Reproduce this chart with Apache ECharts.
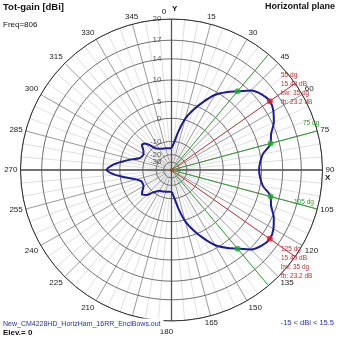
<!DOCTYPE html>
<html><head><meta charset="utf-8">
<script src="https://cdn.jsdelivr.net/npm/echarts@6/dist/echarts.min.js"></script>
<style>html,body{margin:0;padding:0;background:#fff}#c{width:339px;height:339px}</style>
</head><body><div id="c"></div>
<script>
// ---- data ----
const angles = [0,5,10,15,20,25,30,35,40,45,50,55,60,65,70,75,80,85,
  90,95,100,105,110,115,120,125,130,135,140,145,150,155,160,165,170,175,
  180,185,190,195,200,205,210,215,220,225,230,235,240,245,250,255,260,265,
  270,275,280,285,290,295,300,305,310,315,320,325,330,335,340,345,350,355];
const gainDb = [-14.4,-11.0,-5.0,0.5,3.8,6.7,9.3,11.0,12.49,14.2,15.1,15.49,15.1,14.3,13.1,12.49,10.6,9.8,
  9.5,9.8,10.6,12.49,13.1,14.3,15.1,15.49,15.1,14.2,12.49,11.0,9.3,6.7,3.8,0.5,-5.0,-11.0,
  -14.4,-14.4,-14.2,-14.0,-13.7,-13.2,-13.0,-11.5,-9.5,-6.5,-5.0,-6.5,-8.0,-8.3,-8.0,-6.0,-2.5,1.5,
  4.0,2.3,-0.8,-4.0,-7.0,-8.0,-8.0,-7.0,-5.0,-5.5,-8.5,-11.5,-12.5,-13.2,-13.7,-14.0,-14.2,-14.4];
const ringDb = [20,17,14,10,5,0,-10,-20,-30];
const greenAngles = [40,75,105,140];
const redAngles = [55,125];
const greenDb = [12.49,12.49,12.49,12.49];
const redDb = [15.49,15.49];
const topInfo = ['55 dg','15.49 dB','bw: 35 dg','fb: 23.2 dB'];
const botInfo = ['125 dg','15.49 dB','bw: 35 dg','fb: 23.2 dB'];
const greenLabels = ['75 dg','105 dg'];
const titleText = 'Tot-gain [dBi]';
const freqText = 'Freq=806';
const planeText = 'Horizontal plane';
const fileText = 'New_CM4228HD_HorizHam_16RR_EnclBows.out';
const elevText = 'Elev.= 0';
const rangeText = '-15 < dBi < 15.5';

// ARRL-like log radial scale (outer ring = 20 dBi)
const MAXDB = 20;
function rScale(db){ const d = MAXDB - db; return Math.exp(-0.05*d - 0.00018*d*d); }

const FONT = 'Liberation Sans, Arial, sans-serif';
const series = [];
// rings
ringDb.forEach(function(db){
  const pts = [];
  for (let a = 0; a <= 360; a += 2) pts.push([rScale(db), a]);
  series.push({type:'line', coordinateSystem:'polar', data:pts, showSymbol:false, silent:true,
    lineStyle:{color: db===20 ? '#333' : '#6e6e6e', width:1}, z:2, animation:false});
});
// X / Y axes
series.push({type:'line', coordinateSystem:'polar', data:[[1,0],[0,0],[1,180]], showSymbol:false, silent:true,
  lineStyle:{color:'#555', width:1.3}, z:3, animation:false});
series.push({type:'line', coordinateSystem:'polar', data:[[1,90],[0,0],[1,270]], showSymbol:false, silent:true,
  lineStyle:{color:'#555', width:1.3}, z:3, animation:false});
// beam lines
greenAngles.forEach(function(a){
  series.push({type:'line', coordinateSystem:'polar', data:[[0,a],[1,a]], showSymbol:false, silent:true,
    lineStyle:{color:'#3c9c3c', width:1}, z:4, animation:false});
});
redAngles.forEach(function(a){
  series.push({type:'line', coordinateSystem:'polar', data:[[0,a],[1,a]], showSymbol:false, silent:true,
    lineStyle:{color:'#b83a3a', width:1}, z:4, animation:false});
});
// trace
const trace = angles.map(function(a,i){ return [rScale(gainDb[i]), a]; });
trace.push([rScale(gainDb[0]), 360]);
series.push({type:'line', coordinateSystem:'polar', data:trace, showSymbol:false, smooth:0.3, silent:true,
  lineStyle:{color:'#1a1aa0', width:2}, z:6, animation:false});
// dots
series.push({type:'scatter', coordinateSystem:'polar', symbolSize:6, z:7,
  data: greenAngles.map(function(a,i){return [rScale(greenDb[i]), a];}),
  itemStyle:{color:'#22b022'}, silent:true, animation:false});
series.push({type:'scatter', coordinateSystem:'polar', symbolSize:6, z:7,
  data: redAngles.map(function(a,i){return [rScale(redDb[i]), a];}),
  itemStyle:{color:'#e02020'}, silent:true, animation:false});
series.push({type:'scatter', coordinateSystem:'polar', symbolSize:4, z:7,
  data:[[0,0]], itemStyle:{color:'#8b4a20'}, silent:true, animation:false});
// ring labels
series.push({type:'scatter', coordinateSystem:'polar', symbolSize:0, z:8, silent:true, animation:false,
  data: ringDb.map(function(db){return {value:[rScale(db), 0], name:String(db)};}),
  label:{show:true, position:'left', distance:10, formatter:function(p){return p.name;},
    fontSize:8, color:'#333', fontFamily:FONT}});

const graphic = [];
function txt(t, x, y, opt){
  graphic.push({type:'text', x:x, y:y, silent:true, z:20, zlevel:1, style:Object.assign({text:t,
    font:'8px '+FONT, fill:'#111', align:'left', verticalAlign:'middle'}, opt||{})});
}
txt(titleText, 3, 7, {font:'bold 9.5px '+FONT});
txt(freqText, 3, 25, {font:'8px '+FONT});
txt(planeText, 335, 7, {font:'bold 9px '+FONT, align:'right'});
txt(fileText, 3, 324, {font:'7px '+FONT, fill:'#2233aa', backgroundColor:'#fff', padding:[2,3,2,0]});
txt(elevText, 3, 333, {font:'bold 8px '+FONT});
txt(rangeText, 334, 323, {font:'7.5px '+FONT, fill:'#2233aa', align:'right'});
txt('Y', 172, 9, {font:'bold 8px '+FONT});
txt('X', 325, 178, {font:'bold 8px '+FONT});
topInfo.forEach(function(t,i){ txt(t, 281, 75 + i*9, {font:'6.5px '+FONT, fill:'#c03030'}); });
botInfo.forEach(function(t,i){ txt(t, 281, 249 + i*9, {font:'6.5px '+FONT, fill:'#c03030'}); });
txt(greenLabels[0], 303, 123, {font:'6.5px '+FONT, fill:'#2f9a2f'});
txt(greenLabels[1], 294, 202, {font:'6.5px '+FONT, fill:'#2f9a2f'});

const chart = echarts.init(document.getElementById('c'), null, {renderer:'canvas'});
chart.setOption({
  backgroundColor:'#fff',
  animation:false,
  polar:{center:[171.5,170], radius:151},
  angleAxis:{type:'value', min:0, max:360, interval:15, startAngle:90, clockwise:true,
    axisLine:{show:true, lineStyle:{color:'#333', width:1}},
    axisTick:{show:false},
    axisLabel:{show:true, margin:3, fontSize:8, color:'#222', fontFamily:FONT,
      formatter:function(v){ return v===0 ? '{z|0}' : (v===180 ? '{b|180}' : String(v)); },
      rich:{z:{padding:[0,15,0,0], fontSize:8, fontFamily:FONT, color:'#222'},
            b:{padding:[4,10,0,0], fontSize:8, fontFamily:FONT, color:'#222'}}},
    splitLine:{show:true, lineStyle:{color:'#9a9a9a', width:1}},
    minorTick:{show:false, splitNumber:3},
    minorSplitLine:{show:true, lineStyle:{color:'#e0e0e0', width:1}}
  },
  radiusAxis:{type:'value', min:0, max:1, axisLine:{show:false}, axisTick:{show:false},
    axisLabel:{show:false}, splitLine:{show:false}},
  series:series,
  graphic:graphic
});
</script></body></html>
